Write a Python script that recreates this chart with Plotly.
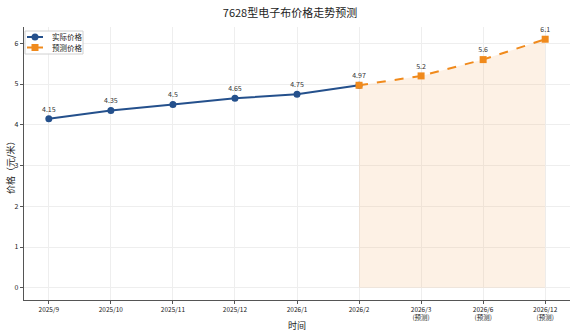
import plotly.graph_objects as go

categories = ["2025/9", "2025/10", "2025/11", "2025/12", "2026/1", "2026/2",
              "2026/3<br>(预测)", "2026/6<br>(预测)", "2026/12<br>(预测)"]
actual_idx = [0, 1, 2, 3, 4, 5]
actual_vals = [4.15, 4.35, 4.5, 4.65, 4.75, 4.97]
forecast_idx = [5, 6, 7, 8]
forecast_vals = [4.97, 5.2, 5.6, 6.1]
forecast_labels = ["", "5.2", "5.6", "6.1"]
y_ticks = [0, 1, 2, 3, 4, 5, 6]

FONT = "Noto Sans CJK SC, DejaVu Sans, sans-serif"
BLUE = "#24508c"
ORANGE = "#f08a1c"

W, H = 576, 334
ML, MR, MT, MB = 24, 6, 27, 34
PW, PH = W - ML - MR, H - MT - MB


def px(x):
    return (x - ML) / PW


def py(y):
    return (H - MB - y) / PH


fig = go.Figure()
fig.add_trace(go.Scatter(
    x=forecast_idx, y=forecast_vals, fill="tozeroy", mode="none",
    fillcolor="rgba(245,170,100,0.17)", showlegend=False, hoverinfo="skip"))
fig.add_trace(go.Scatter(
    x=actual_idx, y=actual_vals, mode="lines+markers+text", name="实际价格",
    line=dict(color=BLUE, width=2), marker=dict(symbol="circle", size=7, color=BLUE),
    text=[str(v) for v in actual_vals], textposition="top center",
    textfont=dict(size=7, color="#333333", family=FONT), showlegend=False))
fig.add_trace(go.Scatter(
    x=forecast_idx, y=forecast_vals, mode="lines+markers+text", name="预测价格",
    line=dict(color=ORANGE, width=2, dash="dash"),
    marker=dict(symbol="square", size=7, color=ORANGE),
    text=forecast_labels, textposition="top center",
    textfont=dict(size=7, color="#333333", family=FONT), showlegend=False))

shapes = [
    dict(type="rect", xref="paper", yref="paper", x0=px(25), x1=px(83), y0=py(54), y1=py(31),
         line=dict(color="#d0d0d0", width=1), fillcolor="rgba(255,255,255,0.9)", layer="above"),
    dict(type="line", xref="paper", yref="paper", x0=px(27), x1=px(43), y0=py(37), y1=py(37),
         line=dict(color=BLUE, width=2), layer="above"),
    dict(type="circle", xref="paper", yref="paper", x0=px(31.5), x1=px(38.5), y0=py(40.5), y1=py(33.5),
         line=dict(color=BLUE, width=0), fillcolor=BLUE, layer="above"),
    dict(type="line", xref="paper", yref="paper", x0=px(27), x1=px(43), y0=py(47.5), y1=py(47.5),
         line=dict(color=ORANGE, width=2), layer="above"),
    dict(type="rect", xref="paper", yref="paper", x0=px(31.5), x1=px(38.5), y0=py(51), y1=py(44),
         line=dict(color=ORANGE, width=0), fillcolor=ORANGE, layer="above"),
]
annotations = [
    dict(text="实际价格", xref="paper", yref="paper", x=px(50), y=py(37), xanchor="left",
         yanchor="middle", showarrow=False, font=dict(size=7.5, family=FONT, color="#222222")),
    dict(text="预测价格", xref="paper", yref="paper", x=px(50), y=py(47.5), xanchor="left",
         yanchor="middle", showarrow=False, font=dict(size=7.5, family=FONT, color="#222222")),
    dict(text="时间", xref="paper", yref="paper", x=px(297), y=py(325), xanchor="center",
         yanchor="middle", showarrow=False, font=dict(size=9, family=FONT, color="#222222")),
    dict(text="价格（元/米）", xref="paper", yref="paper", x=px(10), y=py(165), xanchor="center",
         yanchor="middle", showarrow=False, textangle=-90,
         font=dict(size=9, family=FONT, color="#222222")),
]

fig.update_layout(
    width=W, height=H,
    margin=dict(l=ML, r=MR, t=MT, b=MB, autoexpand=False),
    paper_bgcolor="white", plot_bgcolor="white",
    font=dict(family=FONT, size=8, color="#222222"),
    title=dict(text="7628型电子布价格走势预测", x=290 / W, xanchor="center", y=1 - 13 / H,
               yanchor="middle", font=dict(size=11, color="#222222", family=FONT)),
    showlegend=False,
    shapes=shapes, annotations=annotations,
    xaxis=dict(range=[-0.4, 8.4], tickmode="array", tickvals=list(range(len(categories))),
               ticktext=categories, tickfont=dict(size=6.5, family=FONT), automargin=False,
               showgrid=True, gridcolor="#eeeeee", gridwidth=1,
               showline=True, linecolor="#555555", linewidth=1.2,
               ticks="outside", ticklen=3, tickcolor="#555555", zeroline=False),
    yaxis=dict(range=[-0.3, 6.4], tickvals=y_ticks, tickfont=dict(size=7, family=FONT),
               automargin=False,
               showgrid=True, gridcolor="#eeeeee", gridwidth=1,
               showline=True, linecolor="#555555", linewidth=1.2,
               ticks="outside", ticklen=3, tickcolor="#555555", zeroline=False),
)
fig.write_html("out.html")
